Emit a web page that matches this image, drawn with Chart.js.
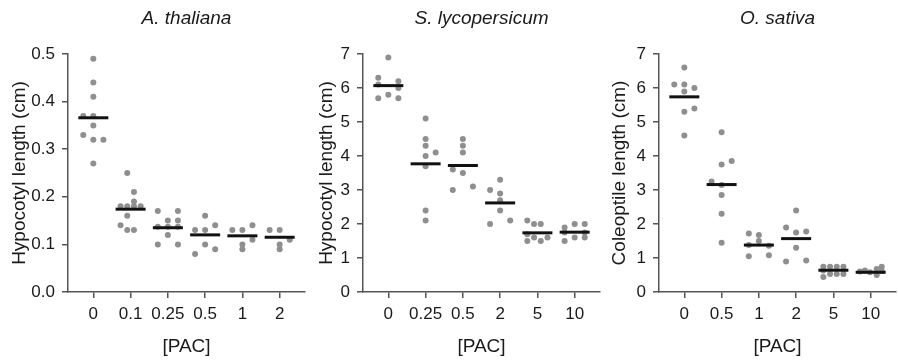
<!DOCTYPE html>
<html lang="en">
<head>
  <meta charset="UTF-8">
  <title>PAC dose response - hypocotyl / coleoptile length</title>
  <script src="https://cdn.jsdelivr.net/npm/chart.js"></script>
  <style>
    body {
      margin: 0;
      background: #ffffff;
      width: 898px;
      height: 364px;
      position: relative;
      overflow: hidden;
    }
    canvas {
      position: absolute;
      top: 0;
    }
  </style>
</head>
<body>

  <canvas id="chartAth" width="310" height="364" style="left:0px"></canvas>
  <canvas id="chartSly" width="300" height="364" style="left:305px"></canvas>
  <canvas id="chartOsa" width="293" height="364" style="left:605px"></canvas>

  <script>
    // ---- A. thaliana ----
    const athCategories = ['0', '0.1', '0.25', '0.5', '1', '2'];
    const athValues = [
      [0.49, 0.44, 0.41, 0.37, 0.37, 0.35, 0.33, 0.32, 0.32, 0.27],
      [0.25, 0.21, 0.19, 0.18, 0.18, 0.18, 0.18, 0.16, 0.14, 0.13, 0.13],
      [0.17, 0.17, 0.15, 0.15, 0.137, 0.137, 0.137, 0.12, 0.10, 0.10],
      [0.16, 0.14, 0.13, 0.13, 0.10, 0.09, 0.08],
      [0.14, 0.13, 0.13, 0.11, 0.10, 0.09],
      [0.13, 0.13, 0.11, 0.10, 0.09]
    ];
    // swarm lane of each dot (left < 0 < right)
    const athLanes = [
      [0, 0, 0, -1.5, 0, 0, -1.5, 0, 1.5, 0],
      [-0.5, 0.5, 0.5, -1.5, -0.5, 0.5, 1.5, -0.5, -1.5, -0.5, 0.5],
      [-1.5, 1.5, 0, 1.5, -1.5, 0, 1.5, 0, -1.5, 1.5],
      [0, 1.5, -1.5, 0, 0, 1.5, -1.5],
      [1.5, -1.5, 0, 1.5, 0, 0],
      [-1.5, 0, 1.5, 0, 0]
    ];
    const athMeans = [0.366, 0.174, 0.135, 0.12, 0.118, 0.115];

    // ---- S. lycopersicum ----
    const slyCategories = ['0', '0.25', '0.5', '2', '5', '10'];
    const slyValues = [
      [6.9, 6.3, 6.2, 6.1, 6.0, 5.8, 5.7, 5.7],
      [5.1, 4.5, 4.3, 4.1, 4.0, 3.7, 2.4, 2.1],
      [4.5, 4.3, 4.1, 3.6, 3.5, 3.1, 3.0],
      [3.3, 3.0, 2.9, 2.7, 2.4, 2.1, 2.0],
      [2.1, 2.0, 2.0, 1.7, 1.6, 1.6, 1.5, 1.5],
      [2.0, 2.0, 1.9, 1.75, 1.75, 1.6, 1.6, 1.5]
    ];
    const slyLanes = [
      [0, -1.5, 1.5, -1.5, 1.5, 0, -1.5, 1.5],
      [0, 0, 0, 1.5, 0, 0, 0, 0],
      [0, 0, 0, -1.5, 0, 1.5, -1.5],
      [0, -1.5, 0, 0, 0, 1.5, -1.5],
      [-1.5, -0.5, 0.5, -1.5, -0.5, 1.5, -1.5, 0.5],
      [0, 1.5, -1.5, -1.5, 1.5, 0, 1.5, -1.5]
    ];
    const slyMeans = [6.07, 3.77, 3.72, 2.62, 1.74, 1.76];

    // ---- O. sativa ----
    const osaCategories = ['0', '0.5', '1', '2', '5', '10'];
    const osaValues = [
      [6.6, 6.1, 6.1, 6.0, 5.9, 5.4, 5.3, 4.6],
      [4.7, 3.85, 3.75, 3.25, 3.15, 2.85, 2.3, 1.45],
      [1.72, 1.68, 1.5, 1.38, 1.36, 1.05, 1.08],
      [2.4, 1.9, 1.75, 1.78, 1.3, 0.9, 0.93],
      [0.74, 0.74, 0.74, 0.74, 0.63, 0.53, 0.53, 0.53, 0.44],
      [0.6, 0.63, 0.58, 0.6, 0.68, 0.74, 0.5, 0.62]
    ];
    const osaLanes = [
      [0, -1.5, 0, 1.5, 0, 1.5, 0, 0],
      [0, 1.5, 0, -1.5, 0, 0, 0, 0],
      [-1.5, 0, 0, -1.5, 1.5, -1.5, 1.5],
      [0, -1.5, 0, 1.5, 0, -1.5, 1.5],
      [-1.5, -0.5, 0.5, 1.5, -1.5, -0.5, 0.5, 1.5, -1.5],
      [-1.6, -0.85, -0.1, 0.9, 0.9, 1.65, 0.9, 1.65]
    ];
    const osaMeans = [5.74, 3.16, 1.38, 1.57, 0.64, 0.58];

    Chart.defaults.font.family = "'Liberation Sans', Arial, sans-serif";
    Chart.defaults.color = '#1a1a1a';

    const AXIS = '#555555';
    const DOT = '#8f8f8f';
    const LANE = 0.18; // category units per swarm lane

    function makePanel(id, title, yTitle, cats, values, lanes, means, yMax, yStep, decimals, yWidth, yTitlePad, padRight) {
      const dots = [];
      values.forEach((group, i) => {
        group.forEach((v, j) => dots.push({ x: i + lanes[i][j] * LANE, y: v }));
      });
      const meanPts = means.map((m, i) => ({ x: i, y: m }));

      new Chart(document.getElementById(id), {
        type: 'scatter',
        data: {
          datasets: [
            {
              data: meanPts,
              pointStyle: 'line',
              pointRadius: 15,
              borderWidth: 3,
              borderColor: '#111111',
              backgroundColor: '#111111'
            },
            {
              data: dots,
              pointRadius: 3,
              borderWidth: 0,
              backgroundColor: DOT
            }
          ]
        },
        options: {
          responsive: false,
          animation: false,
          events: [],
          layout: {
            autoPadding: false, // the wide mean markers would otherwise push the plot in
            padding: { left: 0, right: padRight, top: 0, bottom: 0 }
          },
          plugins: {
            legend: { display: false },
            tooltip: { enabled: false },
            title: {
              display: true,
              text: title,
              fullSize: false,
              color: '#1a1a1a',
              font: { size: 19, style: 'italic', weight: 'normal' },
              padding: { top: 7.6, bottom: 23.6 }
            }
          },
          scales: {
            x: {
              type: 'linear',
              min: -0.68,
              max: 5.68,
              afterBuildTicks: (scale) => {
                scale.ticks = cats.map((c, i) => ({ value: i }));
              },
              afterFit: (scale) => {
                scale.height = 72;
                scale.paddingLeft = 0;
                scale.paddingRight = 0;
              },
              ticks: {
                autoSkip: false,
                maxRotation: 0,
                padding: 6,
                color: '#1a1a1a',
                font: { size: 17 },
                callback: (v) => cats[v]
              },
              grid: {
                display: true,
                drawOnChartArea: false,
                drawTicks: true,
                tickLength: 6,
                color: AXIS,
                lineWidth: 1.5
              },
              border: { display: true, color: AXIS, width: 1.5 },
              title: {
                display: true,
                text: '[PAC]',
                color: '#1a1a1a',
                font: { size: 19 },
                padding: { top: 0, bottom: 6 }
              }
            },
            y: {
              min: 0,
              max: yMax,
              afterFit: (scale) => {
                scale.width = yWidth;
                scale.paddingTop = 0;
                scale.paddingBottom = 0;
              },
              ticks: {
                stepSize: yStep,
                padding: 7,
                color: '#1a1a1a',
                font: { size: 17 },
                callback: (v) => v.toFixed(decimals)
              },
              grid: {
                display: true,
                drawOnChartArea: false,
                drawTicks: true,
                tickLength: 6,
                color: AXIS,
                lineWidth: 1.5
              },
              border: { display: true, color: AXIS, width: 1.5 },
              title: {
                display: true,
                text: yTitle,
                color: '#1a1a1a',
                font: { size: 19 },
                padding: { top: yTitlePad, bottom: 0 }
              }
            }
          }
        }
      });
    }

    makePanel('chartAth', 'A. thaliana', 'Hypocotyl length (cm)', athCategories, athValues, athLanes, athMeans, 0.5, 0.1, 1, 68, 8.6, 5);
    makePanel('chartSly', 'S. lycopersicum', 'Hypocotyl length (cm)', slyCategories, slyValues, slyLanes, slyMeans, 7, 1, 0, 58, 10.6, 5);
    makePanel('chartOsa', 'O. sativa', 'Coleoptile length (cm)', osaCategories, osaValues, osaLanes, osaMeans, 7, 1, 0, 54, 3.6, 2);
  </script>

</body>
</html>
